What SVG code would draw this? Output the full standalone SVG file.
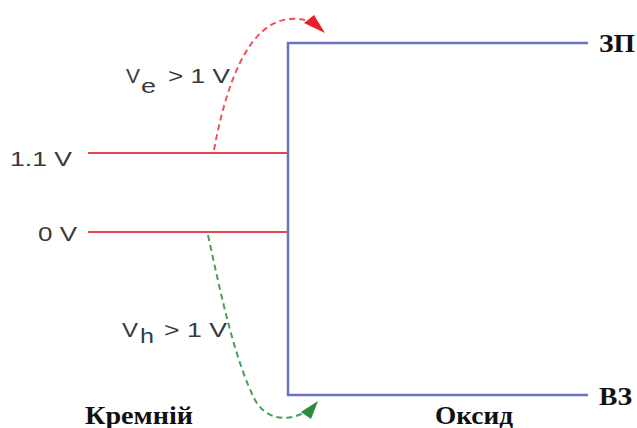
<svg xmlns="http://www.w3.org/2000/svg" width="637" height="428" viewBox="0 0 637 428">
<style>
.sans{font-family:"Liberation Sans",Arial,sans-serif;font-size:21px;fill:#3a3a3a;}
.sub{font-family:"Liberation Sans",Arial,sans-serif;font-size:20px;fill:#3a3a3a;}
.bold{font-family:"Liberation Serif","Times New Roman",serif;font-size:25px;font-weight:bold;fill:#111;}
.band{stroke:#6b73c6;stroke-width:2.5;fill:none;}
.level{stroke:#e8434f;stroke-width:2;fill:none;}
.dashR{stroke:#f0505c;stroke-width:2;fill:none;stroke-dasharray:6,4;}
.dashG{stroke:#4a9e5a;stroke-width:2;fill:none;stroke-dasharray:6,4;}
</style>
<rect width="637" height="428" fill="#fff"/>
<g id="oxide">
<path class="band" d="M588,43 H288 V395 H588"/>
</g>
<g id="levels">
<line class="level" x1="88" y1="153" x2="288" y2="153"/>
<line class="level" x1="88" y1="232" x2="288" y2="232"/>
</g>
<g id="connectors">
<path class="dashR" d="M214,150 C226,85 248,22 290,19 C302,18 310,21 314,24"/>
<polygon points="325,33 304,23 314,15" fill="#e8202e"/>
<path class="dashG" d="M208,235 C222,300 235,360 255,400 C266,420 288,422 305,412"/>
<polygon points="318,401 301,412 311,419" fill="#2e8b3e"/>
</g>
<g id="labels">
<text class="sans" x="126" y="83" textLength="14" lengthAdjust="spacingAndGlyphs">V</text>
<text class="sub" x="141" y="93" textLength="15" lengthAdjust="spacingAndGlyphs">e</text>
<text class="sans" x="168" y="83" textLength="62" lengthAdjust="spacingAndGlyphs">&gt; 1 V</text>
<text class="sans" x="10" y="166" textLength="62" lengthAdjust="spacingAndGlyphs">1.1 V</text>
<text class="sans" x="38" y="241" textLength="39" lengthAdjust="spacingAndGlyphs">0 V</text>
<text class="sans" x="122" y="337" textLength="16" lengthAdjust="spacingAndGlyphs">V</text>
<text class="sub" x="140" y="343" textLength="14" lengthAdjust="spacingAndGlyphs">h</text>
<text class="sans" x="164" y="337" textLength="63" lengthAdjust="spacingAndGlyphs">&gt; 1 V</text>
</g>
<g id="titles">
<text class="bold" x="599" y="52" textLength="36" lengthAdjust="spacingAndGlyphs">ЗП</text>
<text class="bold" x="599" y="405" textLength="33" lengthAdjust="spacingAndGlyphs">ВЗ</text>
<text class="bold" x="435" y="424" textLength="78" lengthAdjust="spacingAndGlyphs">Оксид</text>
<text class="bold" x="85" y="424" textLength="108" lengthAdjust="spacingAndGlyphs">Кремній</text>
</g>
</svg>
